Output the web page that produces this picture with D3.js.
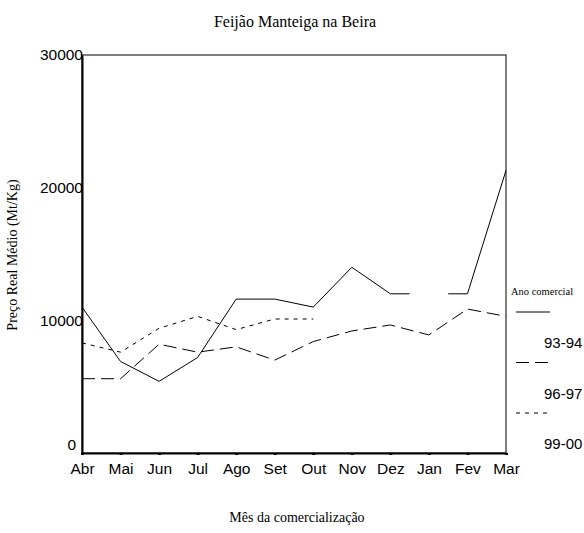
<!DOCTYPE html>
<html>
<head>
<meta charset="utf-8">
<script src="https://cdn.jsdelivr.net/npm/d3@7"></script>
<style>
  body { margin: 0; background: #fff; }
  svg { display: block; }
</style>
</head>
<body>
<div id="chart"></div>
<script>
// data
var months = ['Abr', 'Mai', 'Jun', 'Jul', 'Ago', 'Set', 'Out', 'Nov', 'Dez', 'Jan', 'Fev', 'Mar'];
var seriesNames = ['93-94', '96-97', '99-00'];
var v9394 = [11000, 6900, 5400, 7200, 11600, 11600, 11000, 14000, 12000, null, 12000, 21300];
var v9697 = [5600, 5600, 8200, 7600, 8000, 7000, 8400, 9200, 9650, 8900, 10850, 10300];
var v9900 = [8300, 7600, 9400, 10300, 9300, 10100, 10100, null, null, null, null, null];
var yTicks = [0, 10000, 20000, 30000];

var width = 584, height = 533;
var margin = { top: 55, right: 78, bottom: 80, left: 82 };
var dashes = [null, '13,6', '4,5'];
var allSeries = [v9394, v9697, v9900];

var svg = d3.select('#chart')
    .append('svg')
    .attr('width', width)
    .attr('height', height);

var x = d3.scalePoint()
    .domain(months)
    .range([margin.left, width - margin.right]);

var y = d3.scaleLinear()
    .domain([0, 30000])
    .range([height - margin.bottom, margin.top]);

var step = x.step();

// frame top and right
svg.append('rect')
    .attr('x', margin.left)
    .attr('y', margin.top)
    .attr('width', x.range()[1] - margin.left)
    .attr('height', y(0) - margin.top)
    .attr('fill', 'none')
    .attr('stroke', '#000')
    .attr('stroke-width', 1);

var line = d3.line()
    .defined(function (d) { return d != null; })
    .x(function (d, i) { return x(months[i]); })
    .y(function (d) { return y(d); });

allSeries.forEach(function (vals, k) {
    svg.append('path')
        .datum(vals)
        .attr('d', line)
        .attr('fill', 'none')
        .attr('stroke', '#000')
        .attr('stroke-width', 1)
        .attr('stroke-dasharray', dashes[k]);

    // half-step stubs next to interior gaps
    vals.forEach(function (d, i) {
        if (d == null) return;
        [-1, 1].forEach(function (dir) {
            var j = i + dir;
            if (j < 0 || j >= vals.length || vals[j] != null) return;
            var m = j;
            while (m >= 0 && m < vals.length && vals[m] == null) m += dir;
            if (m < 0 || m >= vals.length) return;
            svg.append('line')
                .attr('x1', x(months[i]))
                .attr('x2', x(months[i]) + dir * step / 2)
                .attr('y1', y(d))
                .attr('y2', y(d))
                .attr('stroke', '#000')
                .attr('stroke-width', 1)
                .attr('stroke-dasharray', dashes[k]);
        });
    });
});

// axes
var yAxis = svg.append('g')
    .attr('transform', 'translate(' + margin.left + ',0)')
    .call(d3.axisLeft(y).tickValues(yTicks).tickSize(0).tickPadding(0).tickFormat(d3.format('d')));
yAxis.select('.domain').attr('stroke-width', 2);
yAxis.selectAll('text')
    .attr('font-family', 'Liberation Sans, Arial, sans-serif')
    .attr('font-size', 15.5)
    .attr('fill', '#000')
    .attr('dy', function (d) { return d === 0 ? '-0.25em' : '0.32em'; })
    .attr('x', function (d) { return d === 0 ? -6 : 1; });

var xAxis = svg.append('g')
    .attr('transform', 'translate(0,' + y(0) + ')')
    .call(d3.axisBottom(x).tickSize(2).tickSizeOuter(0).tickPadding(8));
xAxis.select('.domain').attr('stroke-width', 2);
xAxis.selectAll('.tick line').attr('stroke-width', 3);
xAxis.selectAll('text')
    .attr('font-family', 'Liberation Sans, Arial, sans-serif')
    .attr('font-size', 15.5)
    .attr('fill', '#000');

// titles
svg.append('text')
    .attr('x', 295).attr('y', 27)
    .attr('text-anchor', 'middle')
    .attr('font-family', 'Liberation Serif, Times New Roman, serif')
    .attr('font-size', 16)
    .text('Feijão Manteiga na Beira');

svg.append('text')
    .attr('x', 297).attr('y', 522)
    .attr('text-anchor', 'middle')
    .attr('font-family', 'Liberation Serif, Times New Roman, serif')
    .attr('font-size', 14)
    .text('Mês da comercialização');

svg.append('text')
    .attr('transform', 'translate(17,' + 255 + ') rotate(-90)')
    .attr('text-anchor', 'middle')
    .attr('font-family', 'Liberation Serif, Times New Roman, serif')
    .attr('font-size', 14)
    .text('Preço Real Médio (Mt/Kg)');

// legend
var legend = svg.append('g').attr('transform', 'translate(511,0)');
legend.append('text')
    .attr('x', 0).attr('y', 295)
    .attr('font-family', 'Liberation Serif, Times New Roman, serif')
    .attr('font-size', 10.5)
    .text('Ano comercial');

seriesNames.forEach(function (name, k) {
    var ly = 312 + k * 50.5;
    legend.append('line')
        .attr('x1', 5).attr('x2', 39)
        .attr('y1', ly).attr('y2', ly)
        .attr('stroke', '#000')
        .attr('stroke-width', 1)
        .attr('stroke-dasharray', dashes[k]);
    legend.append('text')
        .attr('x', 33).attr('y', ly + 36)
        .attr('font-family', 'Liberation Sans, Arial, sans-serif')
        .attr('font-size', 15)
        .text(name);
});
</script>
</body>
</html>
